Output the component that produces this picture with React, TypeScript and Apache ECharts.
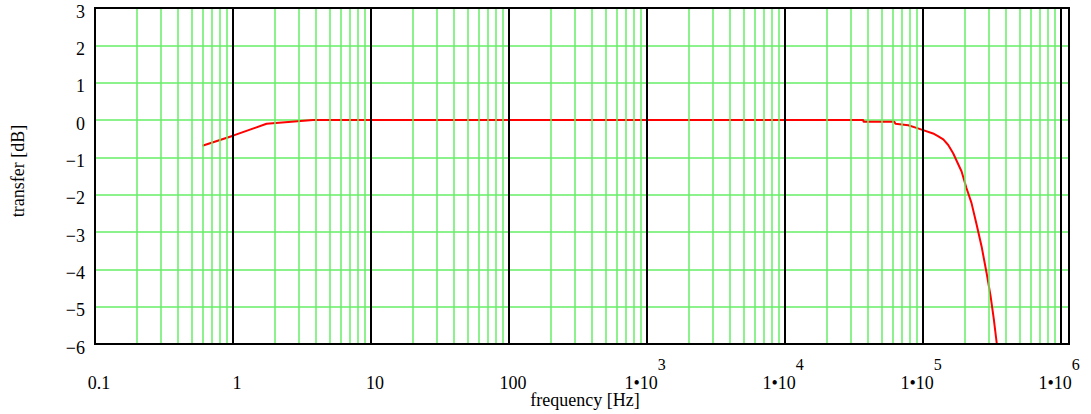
import React, { useEffect, useRef } from "react";
import * as echarts from "echarts";

// Curve (frequency in Hz, transfer in dB)
const frequencyHz = [
  0.6, 1.0, 1.75, 3.8, 100, 1000, 1e4, 3.69e4, 3.7e4, 6.2e4, 6.3e4, 7.8e4,
  8.95e4, 1e5, 1.18e5, 1.28e5, 1.4e5, 1.52e5, 1.65e5, 1.9e5, 2.06e5, 2.24e5,
  2.44e5, 2.65e5, 2.88e5, 3.08e5, 3.25e5, 3.42e5,
];
const transferDb = [
  -0.69, -0.42, -0.1, 0, 0, 0, 0, 0, -0.05, -0.05, -0.1, -0.14, -0.21, -0.27,
  -0.36, -0.43, -0.52, -0.67, -0.89, -1.38, -1.82, -2.22, -2.8, -3.38, -4.09,
  -4.71, -5.33, -6,
];

// Axis ranges / grid
const xMin = 0.1;
const xMax = 1.14e6;
const yMin = -6;
const yMax = 3;
const decadeLines = [1, 10, 100, 1000, 1e4, 1e5, 1e6];
const minorDecades = [0.1, 1, 10, 100, 1000, 1e4, 1e5];
const minorMultipliers = [2, 3, 4, 5, 6, 7, 8, 9];

const xTitle = "frequency [Hz]";
const yTitle = "transfer [dB]";

const GREEN = "#66ee66";
const FONT = "Liberation Serif";

export default function App() {
  const ref = useRef<HTMLDivElement>(null);

  useEffect(() => {
    const chart = echarts.init(ref.current!, null, { renderer: "svg" });
    const minorValues = minorDecades.flatMap((d) =>
      minorMultipliers.map((m) => Number((m * d).toPrecision(3)))
    );

    const xLabel = (v: number) => {
      const lg = Math.log10(v);
      const e = Math.round(lg);
      if (Math.abs(lg - e) > 1e-6 || e > 6) return "";
      if (e < 3) return `{n|${e < 0 ? v.toFixed(1) : String(Math.round(v))}}`;
      return `{b|1•10}{s|${e}}`;
    };

    const yLabel = (v: number) =>
      `{a|${v < 0 ? "\u2212" + String(-v) : String(v)}}`;

    chart.setOption({
      animation: false,
      textStyle: { fontFamily: FONT, color: "#000" },
      grid: {
        left: 95,
        right: 22,
        top: 8,
        bottom: 70,
        show: true,
        borderColor: "#000",
        borderWidth: 2,
        backgroundColor: "transparent",
        z: 10,
      },
      xAxis: {
        type: "log",
        logBase: 10,
        min: xMin,
        max: xMax,
        interval: 1,
        axisLine: { show: false },
        axisTick: { show: false },
        splitLine: { show: false },
        axisLabel: {
          interval: 0,
          showMinLabel: true,
          showMaxLabel: true,
          hideOverlap: false,
          margin: 12,
          formatter: xLabel,
          color: "#000",
          fontFamily: FONT,
          fontSize: 18,
          rich: {
            n: { fontFamily: FONT, fontSize: 18, color: "#000", lineHeight: 54, padding: [0, 0, 0, 8] },
            b: { fontFamily: FONT, fontSize: 18, color: "#000", lineHeight: 54 },
            s: { fontFamily: FONT, fontSize: 16, color: "#000", verticalAlign: "top", padding: [0, 4, 0, 0] },
          },
        },
      },
      yAxis: {
        type: "value",
        min: yMin,
        max: yMax,
        interval: 1,
        axisLine: { show: false },
        axisTick: { show: false },
        splitLine: { show: true, lineStyle: { color: GREEN, width: 1.5 } },
        axisLabel: {
          margin: 10,
          color: "#000",
          fontFamily: FONT,
          fontSize: 18,
          formatter: yLabel,
          rich: {
            a: { fontFamily: FONT, fontSize: 18, color: "#000", padding: [7, 0, 0, 0] },
          },
        },
      },
      graphic: [
        {
          type: "text",
          x: 18,
          y: 171,
          rotation: Math.PI / 2,
          style: { text: yTitle, fontFamily: FONT, fontSize: 18, fill: "#000", align: "center", verticalAlign: "middle" },
        },
        {
          type: "text",
          x: 585,
          y: 400,
          style: { text: xTitle, fontFamily: FONT, fontSize: 18, fill: "#000", align: "center", verticalAlign: "middle" },
        },
      ],
      series: [
        {
          type: "line",
          data: [],
          z: 1,
          silent: true,
          markLine: {
            silent: true,
            animation: false,
            symbol: ["none", "none"],
            label: { show: false },
            emphasis: { disabled: true },
            lineStyle: { color: GREEN, width: 1.5, type: "solid" },
            data: minorValues.map((v) => ({ xAxis: v })),
          },
        },
        {
          type: "line",
          data: [],
          z: 2,
          silent: true,
          markLine: {
            silent: true,
            animation: false,
            symbol: ["none", "none"],
            label: { show: false },
            emphasis: { disabled: true },
            lineStyle: { color: "#000", width: 2, type: "solid" },
            data: decadeLines.map((v) => ({ xAxis: v })),
          },
        },
        {
          type: "line",
          z: 3,
          data: frequencyHz.map((f, i) => [f, transferDb[i]]),
          showSymbol: false,
          symbol: "none",
          lineStyle: { color: "#ff0000", width: 2 },
        },
      ],
    });

    return () => chart.dispose();
  }, []);

  return (
    <div
      ref={ref}
      style={{ position: "fixed", left: 0, top: 0, width: 1091, height: 414, background: "#fff" }}
    />
  );
}
